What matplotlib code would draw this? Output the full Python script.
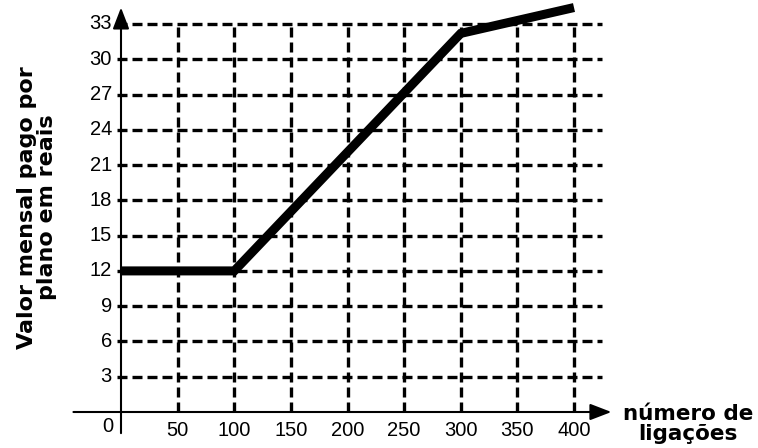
import matplotlib
matplotlib.use("Agg")
import matplotlib.pyplot as plt

# dados do grafico
ligacoes = [0, 100, 300, 400]
valor = [12, 12, 32.2, 34.4]
x_ticks = [50, 100, 150, 200, 250, 300, 350, 400]
y_ticks = [3, 6, 9, 12, 15, 18, 21, 24, 27, 30, 33]

fig = plt.figure(figsize=(7.58, 4.48), dpi=100)
ax = fig.add_axes([121 / 758, 36 / 448, 453 / 758, 388 / 448])
ax.set_xlim(0, 400)
ax.set_ylim(0, 33)
ax.set_axis_off()

dash = (0, (3, 1.5))
# grade tracejada
ax.hlines(y_ticks, -3.5, 425, colors="black", linewidth=2.4, linestyles=dash, clip_on=False)
ax.vlines(x_ticks, 0, 33, colors="black", linewidth=2.4, linestyles=dash, clip_on=False)

# eixos com setas
arrow = dict(arrowstyle="-|>,head_length=0.65,head_width=0.25", lw=1.5, color="black",
             shrinkA=0, shrinkB=0, mutation_scale=20)
ax.annotate("", xy=(433, 0), xytext=(-42, 0), arrowprops=arrow, annotation_clip=False)
ax.annotate("", xy=(0, 34.4), xytext=(0, -1.8), arrowprops=arrow, annotation_clip=False)

# linha do valor
ax.plot(ligacoes, valor, color="black", linewidth=6.5, solid_capstyle="butt",
        solid_joinstyle="miter", clip_on=False, zorder=5)

# rotulos
tick_font = dict(family="Liberation Sans", fontsize=14.5)
for v in y_ticks:
    ax.text(-8, v, str(v), ha="right", va="center", **tick_font)
for v in x_ticks:
    ax.text(v, -1.6, str(v), ha="center", va="center", **tick_font)
ax.text(-7, -1.2, "0", ha="right", va="center", **tick_font)

ax.text(501, -1.0, "número de\nligações", ha="center", va="center", multialignment="center",
        fontsize=15.5, fontweight="bold", family="DejaVu Sans", linespacing=1.0)
ax.text(-74, 17.4, "Valor mensal pago por\nplano em reais", rotation=90, ha="center",
        va="center", multialignment="center", fontsize=16, fontweight="bold",
        family="DejaVu Sans", linespacing=1.0)

fig.savefig("out.png", dpi=100)
